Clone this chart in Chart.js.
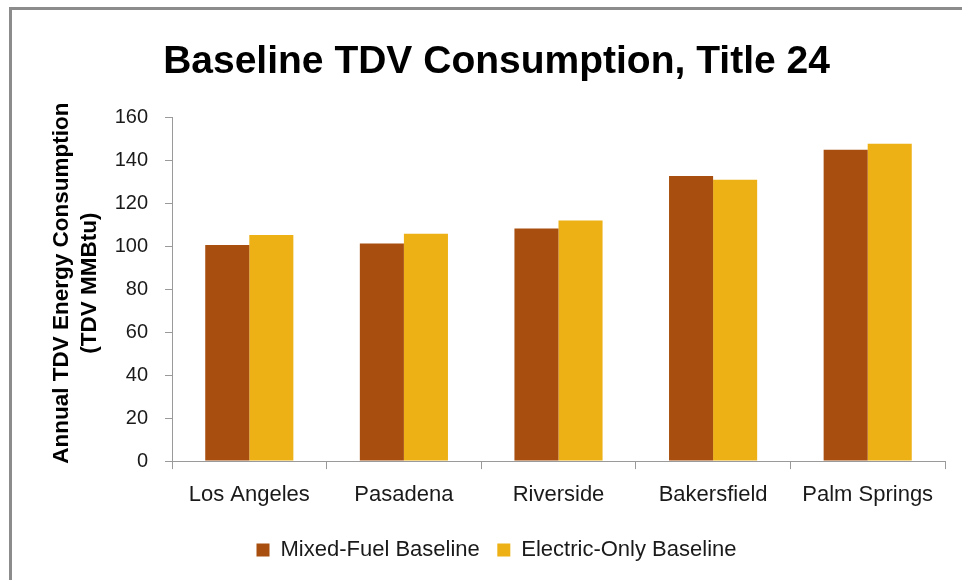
<!DOCTYPE html>
<html>
<head>
<meta charset="utf-8">
<script src="https://cdn.jsdelivr.net/npm/chart.js@4"></script>
<style>
  html, body { margin: 0; padding: 0; background: #fff; }
  #wrap { width: 962px; height: 580px; position: relative; }
</style>
</head>
<body>
<div id="wrap"><canvas id="tdvChart" width="962" height="580"></canvas></div>
<script>
// chart data
var cities = ['Los Angeles', 'Pasadena', 'Riverside', 'Bakersfield', 'Palm Springs'];
var mixedFuel = [100.7, 101.4, 108.4, 132.9, 145.1];
var electricOnly = [105.4, 106.0, 112.1, 131.1, 147.9];
var yTicks = [0, 20, 40, 60, 80, 100, 120, 140, 160];

var sans = "'Liberation Sans', Arial, sans-serif";

// thin grey frame on the left and top, like the pasted slide
var framePlugin = {
  id: 'frame',
  beforeDraw: function (chart) {
    var c = chart.ctx;
    c.save();
    c.fillStyle = '#fff';
    c.fillRect(0, 0, chart.width, chart.height);
    c.strokeStyle = '#8c8c8c';
    c.lineWidth = 3;
    c.beginPath();
    c.moveTo(10.5, chart.height);
    c.lineTo(10.5, 8.5);
    c.lineTo(chart.width, 8.5);
    c.stroke();
    c.restore();
  }
};

var ctx = document.getElementById('tdvChart').getContext('2d');
var myChart = new Chart(ctx, {
  type: 'bar',
  data: {
    labels: cities,
    datasets: [
      {
        label: 'Mixed-Fuel Baseline',
        data: mixedFuel,
        backgroundColor: '#A84E0F',
        categoryPercentage: 0.57,
        barPercentage: 1.0
      },
      {
        label: 'Electric-Only Baseline',
        data: electricOnly,
        backgroundColor: '#EEB115',
        categoryPercentage: 0.57,
        barPercentage: 1.0
      }
    ]
  },
  options: {
    responsive: false,
    animation: false,
    layout: {
      padding: { left: 48, right: 17, top: 0, bottom: 9 }
    },
    scales: {
      x: {
        grid: {
          display: true,
          drawOnChartArea: false,
          drawTicks: true,
          tickLength: 8,
          color: '#9a9a9a'
        },
        border: { color: '#9a9a9a', width: 1 },
        ticks: {
          color: '#1a1a1a',
          padding: 13,
          autoSkip: false,
          maxRotation: 0,
          minRotation: 0,
          font: { family: sans, size: 22 }
        }
      },
      y: {
        min: 0,
        max: 160,
        afterBuildTicks: function (scale) {
          scale.ticks = yTicks.map(function (v) { return { value: v }; });
        },
        afterFit: function (scale) {
          scale.width = 124;  // axis line at x=172
        },
        grid: {
          display: true,
          drawOnChartArea: false,
          drawTicks: true,
          tickLength: 7,
          color: '#9a9a9a'
        },
        border: { color: '#9a9a9a', width: 1 },
        ticks: {
          color: '#1a1a1a',
          padding: 17,
          font: { family: sans, size: 20 }
        },
        title: {
          display: true,
          text: ['  Annual TDV Energy Consumption', '  (TDV MMBtu)'],
          color: '#000',
          padding: { top: 0, bottom: 0 },
          font: { family: sans, size: 22.5, weight: 'bold', lineHeight: 1.25 }
        }
      }
    },
    plugins: {
      title: {
        display: true,
        text: 'Baseline TDV Consumption, Title 24',
        color: '#000',
        padding: { top: 40, bottom: 33 },
        font: { family: sans, size: 39, weight: 'bold', lineHeight: 1.15 }
      },
      legend: {
        position: 'bottom',
        labels: {
          color: '#1a1a1a',
          boxWidth: 13,
          boxHeight: 13,
          padding: 17.5,
          font: { family: sans, size: 22 }
        }
      },
      tooltip: { enabled: false }
    }
  },
  plugins: [framePlugin]
});
</script>
</body>
</html>
